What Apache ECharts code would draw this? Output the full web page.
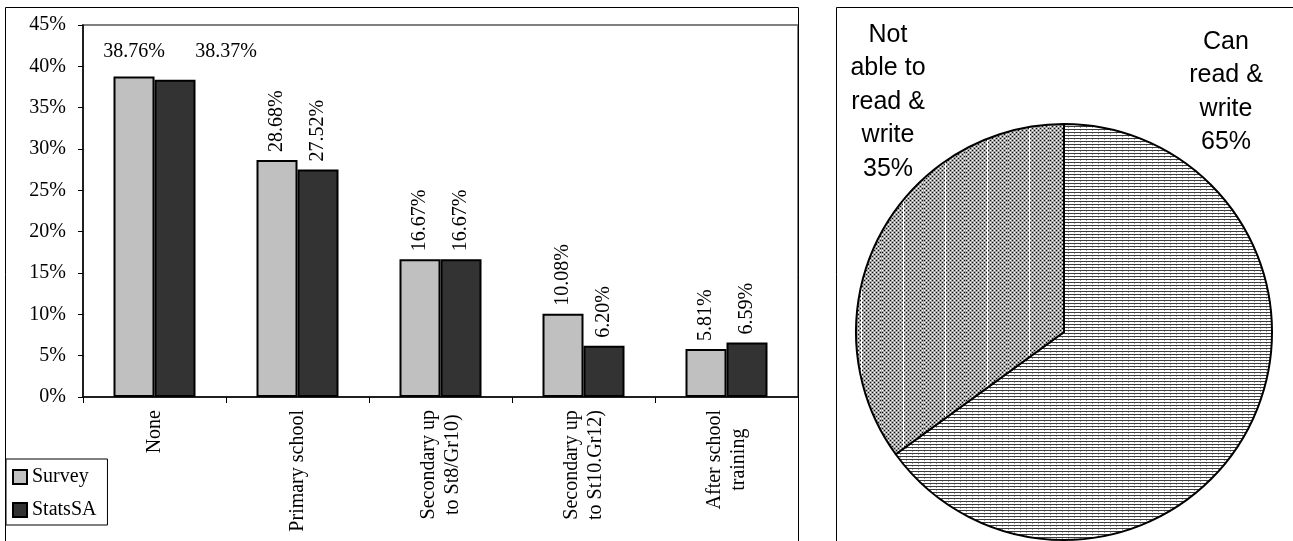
<!DOCTYPE html>
<html>
<head>
<meta charset="utf-8">
<script src="https://cdn.jsdelivr.net/npm/echarts@6/dist/echarts.min.js"></script>
<style>
html,body{margin:0;padding:0;background:#fff;}
#c{width:1293px;height:541px;}
</style>
</head>
<body>
<div id="c"></div>
<script>
// ---- data ----
const categories = ['None', 'Primary school', 'Secondary up\nto St8/Gr10)', 'Secondary up\nto St10.Gr12)', 'After school\ntraining'];
const surveyValues = [38.76, 28.68, 16.67, 10.08, 5.81];
const statsSAValues = [38.37, 27.52, 16.67, 6.20, 6.59];
const seriesNames = ['Survey', 'StatsSA'];
const yTicks = [0, 5, 10, 15, 20, 25, 30, 35, 40, 45];
const pieNames = ['Can read & write', 'Not able to read & write'];
const pieValues = [65, 35];
const pieLabelLines = [['Can', 'read &', 'write'], ['Not', 'able to', 'read &', 'write']];

// ---- patterns ----
function makePattern(w, h, fn) {
  const cv = document.createElement('canvas');
  cv.width = w; cv.height = h;
  const ctx = cv.getContext('2d');
  const img = ctx.createImageData(w, h);
  for (let y = 0; y < h; y++) {
    for (let x = 0; x < w; x++) {
      const v = fn(x, y);
      const i = (y * w + x) * 4;
      img.data[i] = v; img.data[i + 1] = v; img.data[i + 2] = v; img.data[i + 3] = 255;
    }
  }
  ctx.putImageData(img, 0, 0);
  return cv;
}
const hatchCanvas = makePattern(6, 3, function (x, y) {
  if (y === 0) return 60;
  if (y === 1 && x === 0) return 160;
  return 255;
});
const dotCanvas = makePattern(42, 4, function (x, y) {
  if (x === 21) return 255;
  if ((x % 4 === 0 && y === 0) || (x % 4 === 2 && y === 2)) return 10;
  if ((x % 4 === 2 && y === 0) || (x % 4 === 0 && y === 2)) return 255;
  return 165;
});

const serif = 'Liberation Serif';
const sans = 'Liberation Sans';

function barLabel(vals, idx) {
  return vals.map(function (v, i) {
    const item = { value: v };
    if (i === 0) {
      item.label = {
        rotate: 0, position: 'top', align: 'center', verticalAlign: 'bottom',
        distance: idx === 0 ? 15 : 18,
        offset: idx === 0 ? [0, 0] : [51, 0]
      };
    }
    return item;
  });
}

const chart = echarts.init(document.getElementById('c'), null, { renderer: 'canvas' });
const option = {
  animation: false,
  backgroundColor: '#fff',
  graphic: [
    { type: 'rect', shape: { x: 5.5, y: 7.5, width: 793, height: 560 }, style: { fill: 'none', stroke: '#000', lineWidth: 1 }, silent: true, z: 0 },
    { type: 'rect', shape: { x: 836.5, y: 7.5, width: 470, height: 560 }, style: { fill: 'none', stroke: '#000', lineWidth: 1 }, silent: true, z: 0 }
  ],
  grid: {
    left: 83, top: 25, width: 715, height: 372,
    show: true, borderColor: '#808080', borderWidth: 2, backgroundColor: 'transparent',
    outerBoundsMode: 'none'
  },
  legend: {
    orient: 'vertical', left: 6, top: 459,
    data: seriesNames,
    icon: 'rect', itemWidth: 14, itemHeight: 14, itemGap: 13,
    padding: [8, 11, 5, 6],
    borderColor: '#000', borderWidth: 1, backgroundColor: '#fff',
    textStyle: { fontFamily: serif, fontSize: 20, color: '#000' }
  },
  xAxis: {
    type: 'category', data: categories,
    axisLine: { lineStyle: { color: '#000', width: 1.5 } },
    axisTick: { show: true, length: 6, lineStyle: { color: '#000' } },
    axisLabel: {
      rotate: 90, interval: 0, margin: 13, color: '#000', fontFamily: serif, fontSize: 20,
      formatter: function (v) {
        return v.split('\n').map(function (s) { return '{c|' + s + '}'; }).join('\n');
      },
      rich: { c: { align: 'center', fontFamily: serif, fontSize: 20, lineHeight: 24, color: '#000' } }
    },
    splitLine: { show: false }
  },
  yAxis: {
    type: 'value', min: yTicks[0], max: yTicks[yTicks.length - 1], interval: 5,
    axisLine: { show: true, lineStyle: { color: '#000', width: 1.5 } },
    axisTick: { show: true, length: 5, lineStyle: { color: '#000' } },
    axisLabel: { formatter: '{value}%', margin: 17, color: '#000', fontFamily: serif, fontSize: 20 },
    splitLine: { show: false }
  },
  series: [
    {
      name: seriesNames[0], type: 'bar', data: barLabel(surveyValues, 0),
      barWidth: 41, barGap: '0%',
      itemStyle: { color: '#c0c0c0', borderColor: '#000', borderWidth: 2 },
      label: {
        show: true, position: 'top', rotate: 90, align: 'left', verticalAlign: 'middle', distance: 8,
        formatter: function (p) { return p.value.toFixed(2) + '%'; },
        fontFamily: serif, fontSize: 20, color: '#000'
      },
      emphasis: { disabled: true }
    },
    {
      name: seriesNames[1], type: 'bar', data: barLabel(statsSAValues, 1),
      barWidth: 41,
      itemStyle: { color: '#333333', borderColor: '#000', borderWidth: 2 },
      label: {
        show: true, position: 'top', rotate: 90, align: 'left', verticalAlign: 'middle', distance: 8,
        formatter: function (p) { return p.value.toFixed(2) + '%'; },
        fontFamily: serif, fontSize: 20, color: '#000'
      },
      emphasis: { disabled: true }
    },
    {
      type: 'pie', center: [1064, 332], radius: 208, startAngle: 90, clockwise: true,
      avoidLabelOverlap: false,
      data: pieNames.map(function (n, i) {
        return {
          name: n, value: pieValues[i],
          itemStyle: { color: { image: i === 0 ? hatchCanvas : dotCanvas, repeat: 'repeat' } }
        };
      }),
      itemStyle: { borderColor: '#000', borderWidth: 2 },
      label: {
        show: true, position: 'outside', overflow: 'none', color: '#000', fontFamily: sans, fontSize: 25, lineHeight: 33.5, align: 'center',
        formatter: function (p) { return pieLabelLines[p.dataIndex].join('\n') + '\n' + Math.round(p.percent) + '%'; }
      },
      labelLine: { show: false },
      labelLayout: function (params) {
        return params.dataIndex === 0
          ? { x: 1226, y: 92, align: 'center', verticalAlign: 'middle', hideOverlap: false }
          : { x: 888, y: 102, align: 'center', verticalAlign: 'middle', hideOverlap: false };
      },
      emphasis: { disabled: true },
      silent: true
    }
  ]
};
chart.setOption(option);
</script>
</body>
</html>
